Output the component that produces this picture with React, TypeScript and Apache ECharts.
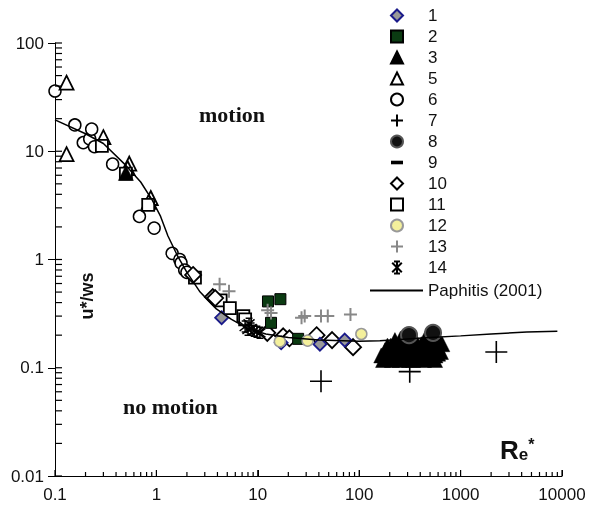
import React, { useEffect, useRef } from "react";
import * as echarts from "echarts";

// ---- data ----
const xTickValues = [0.1, 1, 10, 100, 1000, 10000];
const xTickLabels = ["0.1", "1", "10", "100", "1000", "10000"];
const yTickValues = [0.01, 0.1, 1, 10, 100];
const yTickLabels = ["0.01", "0.1", "1", "10", "100"];
const minorMultiples = [2, 3, 4, 5, 6, 7, 8, 9];

const s1 = [[4.4, 0.29], [17, 0.17], [41, 0.165], [72, 0.18]];
const s2 = [[12.6, 0.41], [16.7, 0.43], [13.5, 0.26], [25, 0.185]];
const s3 = [
  [0.5, 6.3],
  [165, 0.13], [172, 0.118], [180, 0.145], [190, 0.16], [195, 0.125], [205, 0.16], [210, 0.118],
  [215, 0.135], [225, 0.18], [230, 0.15], [235, 0.125], [245, 0.15], [250, 0.118], [255, 0.185],
  [265, 0.13], [275, 0.16], [280, 0.175], [285, 0.12], [295, 0.14], [305, 0.17], [310, 0.118],
  [320, 0.125], [335, 0.15], [340, 0.118], [350, 0.135], [365, 0.175], [380, 0.12], [395, 0.145],
  [410, 0.165], [425, 0.13], [435, 0.118], [445, 0.185], [465, 0.15], [485, 0.125], [505, 0.14],
  [525, 0.17], [545, 0.195], [560, 0.118], [565, 0.13], [590, 0.16], [600, 0.135], [615, 0.18],
  [640, 0.14], [660, 0.165]
];
const s5 = [[0.13, 43], [0.13, 9.4], [0.3, 13.5], [0.54, 7.7], [0.52, 7.0], [0.88, 3.7], [0.84, 3.4]];
const s6 = [
  [0.1, 36], [0.157, 17.5], [0.19, 12], [0.22, 13], [0.23, 16], [0.245, 11], [0.37, 7.6],
  [0.68, 2.5], [0.95, 1.95], [1.43, 1.14], [1.7, 1.0], [1.75, 0.93], [1.9, 0.8], [2.0, 0.76]
];
const s7 = [[42, 0.075], [315, 0.092], [2250, 0.14]];
const s8 = [[310, 0.2], [535, 0.21]];
const s9 = [[260, 0.15], [420, 0.14]];
const s10 = [[2.3, 0.72], [3.6, 0.45], [3.8, 0.44], [12.4, 0.21], [17.8, 0.195], [20.5, 0.187], [38, 0.2], [54, 0.18], [87, 0.155]];
const s11 = [[0.29, 11.2], [0.5, 6.2], [0.83, 3.2], [2.4, 0.68], [4.3, 0.42], [5.3, 0.355], [7.2, 0.3], [7.5, 0.28]];
const s12 = [[16.5, 0.175], [31, 0.178], [105, 0.205]];
const s13 = [[4.2, 0.59], [5.2, 0.51], [12.5, 0.34], [13.5, 0.32], [27, 0.29], [29, 0.3], [42, 0.3], [49, 0.3], [82, 0.31]];
const s14 = [[7.5, 0.24], [8, 0.225], [8.6, 0.23], [9.2, 0.22], [9.8, 0.215], [10.5, 0.21], [8.2, 0.255]];
const paphitis = [
  [0.1, 19.5], [0.2, 14.5], [0.3, 11.8], [0.5, 7.4], [0.7, 5.2], [0.9, 3.6], [1.1, 2.5], [1.3, 1.65],
  [1.6, 1.1], [2.0, 0.76], [2.7, 0.5], [3.9, 0.35], [5.5, 0.28], [8, 0.23], [12, 0.205], [20, 0.19],
  [40, 0.18], [100, 0.176], [160, 0.178], [250, 0.182], [500, 0.19], [1000, 0.197], [2000, 0.205],
  [4500, 0.214], [9000, 0.217]
];
const legendNames = ["1", "2", "3", "5", "6", "7", "8", "9", "10", "11", "12", "13", "14"];

const PLUS = "path://M0,5H10M5,0V10";
const BAR = "path://M0,0M10,10M0,3.5H10V6.5H0Z";
const STAR = "path://M5,0V10M1,1L9,9M9,1L1,9M2.5,0H7.5M2.5,10H7.5";

const SANS = "'Liberation Sans', Arial, Helvetica, sans-serif";
const SERIF = "'Liberation Serif', 'Times New Roman', serif";

function labelFor(values: number[], labels: string[]) {
  return (v: number) => {
    let best = 0;
    for (let i = 0; i < values.length; i++) {
      if (Math.abs(Math.log10(values[i]) - Math.log10(v)) < Math.abs(Math.log10(values[best]) - Math.log10(v))) best = i;
    }
    return labels[best];
  };
}

export default function App() {
  const ref = useRef<HTMLDivElement>(null);
  useEffect(() => {
    if (!ref.current) return;
    const chart = echarts.init(ref.current, undefined, { renderer: "svg" });

    const xMinor: number[] = [];
    xTickValues.slice(0, -1).forEach((d) => minorMultiples.forEach((m) => xMinor.push(d * m)));
    const yMinor: number[] = [];
    yTickValues.slice(0, -1).forEach((d) => minorMultiples.forEach((m) => yMinor.push(d * m)));
    const xMin = xTickValues[0];
    const yMin = yTickValues[0];

    // tick marks placed through the axes' own scales (api.coord)
    const tickSeries = (values: number[], dim: "x" | "y", from: number, to: number, name: string) => ({
      name, type: "custom", z: 10,
      data: values.map((v) => (dim === "x" ? [v, yMin] : [xMin, v])),
      renderItem: (params: any, api: any) => {
        const p = api.coord([api.value(0), api.value(1)]);
        const shape = dim === "x"
          ? { x1: p[0], y1: p[1] - from, x2: p[0], y2: p[1] - to }
          : { x1: p[0] + from, y1: p[1], x2: p[0] + to, y2: p[1] };
        return { type: "line", shape, style: { stroke: "#000", lineWidth: 1.2 } };
      }
    });

    const sc = (name: string, data: number[][], symbol: string, size: number | number[], style: any, z = 2) => ({
      name, type: "scatter", data, symbol, symbolSize: size, itemStyle: { opacity: 1, ...style }, z,
      emphasis: { disabled: true }
    });

    chart.setOption({
      animation: false,
      grid: { left: 55, right: 28, top: 43, bottom: 35 },
      xAxis: {
        type: "log", logBase: 10, min: xTickValues[0], max: xTickValues[xTickValues.length - 1],
        axisLine: { show: true, lineStyle: { color: "#000", width: 1 } },
        axisTick: { show: true, inside: true, length: 6, lineStyle: { color: "#000", width: 1 } },
        axisLabel: { color: "#111", fontSize: 17, fontFamily: SANS, margin: 10, formatter: labelFor(xTickValues, xTickLabels) },
        splitLine: { show: false }
      },
      yAxis: {
        type: "log", logBase: 10, min: yTickValues[0], max: yTickValues[yTickValues.length - 1],
        axisLine: { show: true, lineStyle: { color: "#000", width: 1 } },
        axisTick: { show: true, inside: false, length: 7, lineStyle: { color: "#000", width: 1 } },
        axisLabel: { color: "#111", fontSize: 17, fontFamily: SANS, margin: 11, formatter: labelFor(yTickValues, yTickLabels) },
        splitLine: { show: false }
      },
      legend: [
        {
          orient: "vertical", left: 385, top: 2,
          itemWidth: 12, itemHeight: 12, itemGap: 4,
          textStyle: { fontSize: 17, color: "#111", fontFamily: SANS, padding: [0, 0, 0, 20] },
          data: legendNames
        },
        {
          orient: "vertical", left: 365, top: 277,
          itemWidth: 53, itemHeight: 2, icon: "rect",
          textStyle: { fontSize: 17, color: "#111", fontFamily: SANS },
          data: ["Paphitis (2001)"]
        }
      ],
      graphic: [
        { type: "text", left: 199, top: 103, style: { text: "motion", font: `bold 22px ${SERIF}`, fill: "#111" } },
        { type: "text", left: 123, top: 395, style: { text: "no motion", font: `bold 22px ${SERIF}`, fill: "#111" } },
        {
          type: "text", x: 87, y: 296, rotation: Math.PI / 2,
          style: { text: "u*/ws", font: `bold 18px ${SANS}`, fill: "#111", align: "center", verticalAlign: "middle" }
        },
        {
          type: "text", left: 500, top: 436,
          style: {
            text: "{r|R}{e|e}{s|*}",
            rich: {
              r: { font: `bold 26px ${SANS}`, fill: "#111" },
              e: { font: `bold 17px ${SANS}`, fill: "#111", verticalAlign: "bottom", padding: [10, 0, 0, 0] },
              s: { font: `bold 16px ${SANS}`, fill: "#111", verticalAlign: "top", padding: [0, 0, 8, 0] }
            }
          }
        }
      ],
      series: [
        sc("6", s6, "circle", 12, { color: "#fff", borderColor: "#000", borderWidth: 1.5 }),
        sc("5", s5, "triangle", 14, { color: "#fff", borderColor: "#000", borderWidth: 1.8 }),
        sc("11", s11, "rect", 12, { color: "#fff", borderColor: "#000", borderWidth: 1.8 }),
        sc("10", s10, "diamond", 16, { color: "#fff", borderColor: "#000", borderWidth: 1.8 }),
        sc("3", s3, "triangle", 15, { color: "#000", borderColor: "#000", borderWidth: 0.5 }),
        sc("9", s9, BAR, 11, { color: "#000" }),
        sc("8", s8, "circle", 16, { color: "#111", borderColor: "#555", borderWidth: 2 }),
        sc("1", s1, "diamond", 13, { color: "#999", borderColor: "#1a1a8a", borderWidth: 1.8 }),
        sc("2", s2, "rect", 11, { color: "#0b3b12", borderColor: "#000", borderWidth: 1 }),
        sc("12", s12, "circle", 11, { color: "#f4f09c", borderColor: "#999", borderWidth: 1.5 }),
        sc("13", s13, PLUS, 13, { color: "rgba(0,0,0,0)", borderColor: "#888", borderWidth: 2 }),
        sc("14", s14, STAR, 11, { color: "rgba(0,0,0,0)", borderColor: "#000", borderWidth: 1.5 }),
        sc("7", s7, PLUS, 22, { color: "rgba(0,0,0,0)", borderColor: "#000", borderWidth: 1.6 }),
        {
          name: "Paphitis (2001)", type: "line", data: paphitis, showSymbol: false, symbol: "none",
          lineStyle: { color: "#000", width: 1.5 }, itemStyle: { color: "#000" }, z: 3,
          emphasis: { disabled: true }
        },
        tickSeries(xTickValues, "x", 0, 6, "xMajorTicks"),
        tickSeries(xMinor, "x", 0, 4, "xMinorTicks"),
        tickSeries(yTickValues, "y", 0, 7, "yMajorInner"),
        tickSeries(yMinor, "y", 0, 7, "yMinorTicks")
      ]
    });
    return () => chart.dispose();
  }, []);
  return <div ref={ref} style={{ position: "fixed", left: 0, top: 0, width: 590, height: 511 }} />;
}
